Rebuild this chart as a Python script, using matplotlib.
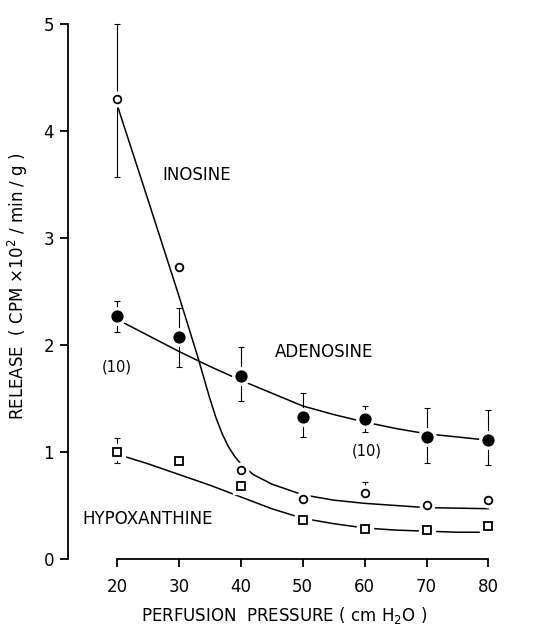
import matplotlib
matplotlib.use("Agg")
import matplotlib.pyplot as plt
import numpy as np

plt.rcParams['font.family'] = ['DejaVu Sans']

# pressures (cm H2O)
pressure = [20, 30, 40, 50, 60, 70, 80]

# measured points
inosine = [4.30, 2.73, 0.83, 0.56, 0.62, 0.50, 0.55]
ino_err_lo = [0.73, 0, 0, 0, 0, 0, 0]
ino_err_hi = [0.70, 0, 0, 0, 0.10, 0, 0]

adenosine = [2.27, 2.07, 1.71, 1.33, 1.31, 1.14, 1.11]
ado_err_lo = [0.15, 0.28, 0.23, 0.19, 0.12, 0.24, 0.23]
ado_err_hi = [0.14, 0.28, 0.27, 0.22, 0.12, 0.27, 0.28]

hypox = [1.00, 0.92, 0.68, 0.36, 0.28, 0.27, 0.31]
hyp_err_lo = [0.10, 0, 0, 0, 0.07, 0, 0]
hyp_err_hi = [0.13, 0, 0, 0, 0.07, 0, 0]

# hand drawn fit curves
ino_fit_x = [20, 25, 30, 33, 34, 35, 36, 37, 38, 39, 40, 42, 45, 50, 55, 60, 70, 80]
ino_fit_y = [4.25, 3.36, 2.46, 1.90, 1.70, 1.50, 1.32, 1.17, 1.05, 0.96, 0.89, 0.79, 0.70, 0.60, 0.55, 0.52, 0.48, 0.47]

ado_fit_x = [20, 25, 30, 35, 40, 45, 50, 55, 60, 65, 70, 75, 80]
ado_fit_y = [2.24, 2.09, 1.94, 1.80, 1.67, 1.55, 1.43, 1.35, 1.28, 1.22, 1.17, 1.14, 1.11]

hyp_fit_x = [20, 25, 30, 35, 40, 45, 50, 55, 60, 65, 70, 75, 80]
hyp_fit_y = [0.98, 0.89, 0.79, 0.69, 0.58, 0.47, 0.38, 0.33, 0.29, 0.27, 0.26, 0.25, 0.25]

fig = plt.figure(figsize=(5.57, 6.28), dpi=100)
ax = fig.add_axes([0.1221, 0.1099, 0.777, 0.869])

lw = 1.1
for fx, fy in [(ino_fit_x, ino_fit_y), (ado_fit_x, ado_fit_y), (hyp_fit_x, hyp_fit_y)]:
    ax.plot(fx, fy, color='black', lw=lw, zorder=1)

series = [
    (inosine, ino_err_lo, ino_err_hi, 'o', 'white', 5.5),
    (adenosine, ado_err_lo, ado_err_hi, 'o', 'black', 7.5),
    (hypox, hyp_err_lo, hyp_err_hi, 's', 'white', 6.3),
]
for vals, elo, ehi, mk, fc, ms in series:
    ax.errorbar(pressure, vals, yerr=[elo, ehi], fmt='none', ecolor='black',
                elinewidth=0.8, capsize=2.5, capthick=0.8, zorder=2)
    # white halo to break the fitted line around markers
    ax.plot(pressure, vals, linestyle='none', marker=mk, ms=ms + 5,
            mfc='white', mec='white', zorder=3)
    ax.plot(pressure, vals, linestyle='none', marker=mk, ms=ms,
            mfc=fc, mec='black', mew=1.3, zorder=4)

fs = 12
ax.text(27.4, 3.59, 'INOSINE', fontsize=fs, va='center', ha='left')
ax.text(45.5, 1.93, 'ADENOSINE', fontsize=fs, va='center', ha='left')
ax.text(14.5, 0.37, 'HYPOXANTHINE', fontsize=fs, va='center', ha='left')
ax.text(20, 1.79, '(10)', fontsize=10.5, va='center', ha='center')
ax.text(60.3, 1.01, '(10)', fontsize=10.5, va='center', ha='center')

ax.set_xlim(12.1, 82)
ax.set_ylim(0, 5.1)
ax.set_xticks(pressure)
ax.set_yticks([0, 1, 2, 3, 4, 5])
ax.spines['top'].set_visible(False)
ax.spines['right'].set_visible(False)
ax.spines['left'].set_bounds(0, 5)
ax.spines['bottom'].set_bounds(20, 80)
ax.spines['left'].set_linewidth(1.3)
ax.spines['bottom'].set_linewidth(1.3)
ax.tick_params(direction='out', length=6, width=1.3, labelsize=fs)
ax.tick_params(axis='y', pad=4)
ax.tick_params(axis='x', pad=8)

ax.set_xlabel('PERFUSION  PRESSURE ( cm H$_2$O )', fontsize=fs, labelpad=6)
ax.set_ylabel('RELEASE  ( CPM $\\times$10$^2$ / min / g )', fontsize=fs, labelpad=10)

fig.savefig('out.png', dpi=100)
